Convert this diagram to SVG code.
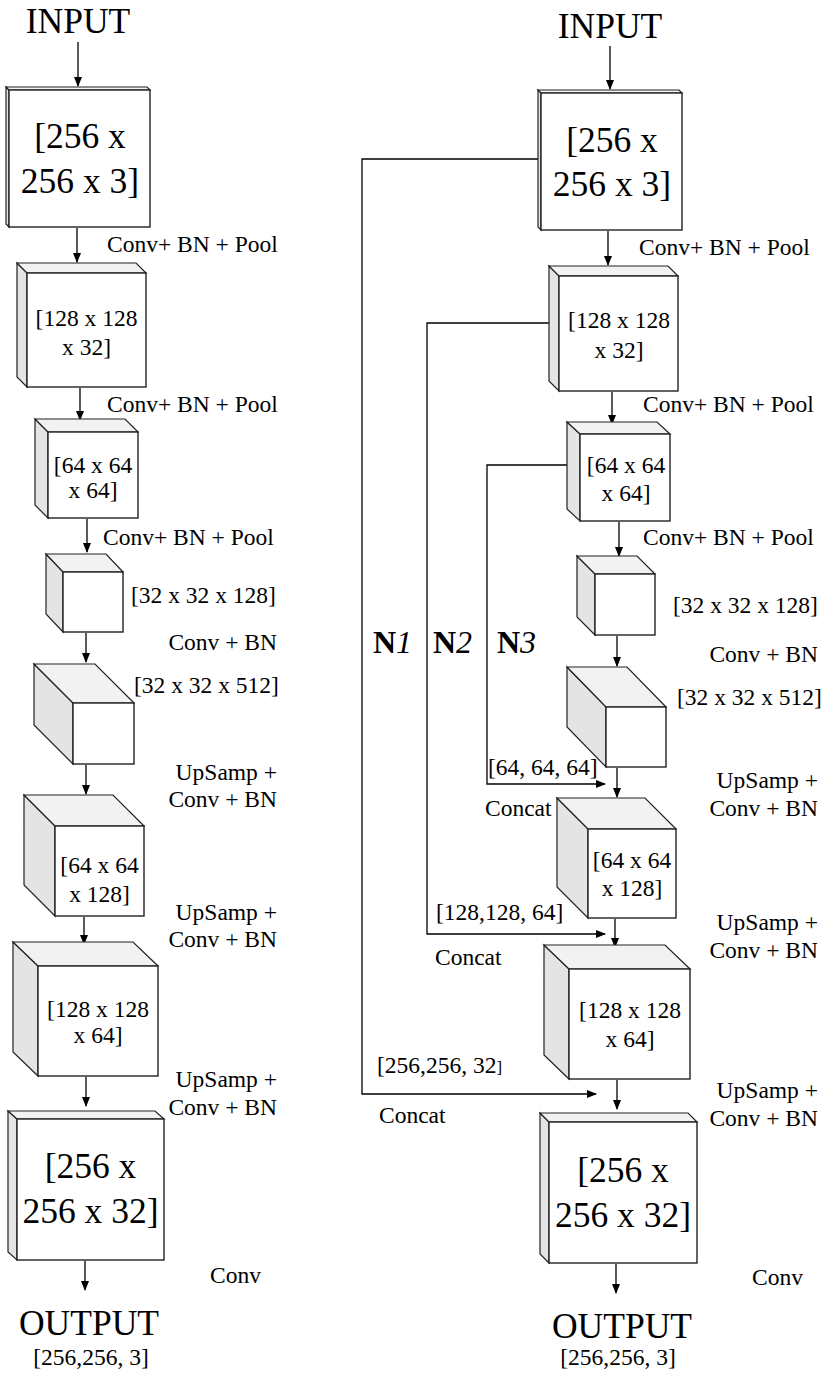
<svg xmlns="http://www.w3.org/2000/svg" width="837" height="1381" viewBox="0 0 837 1381">
<defs>
<marker id="ah" markerWidth="10" markerHeight="8" refX="9" refY="4" orient="auto" markerUnits="userSpaceOnUse">
<path d="M0,0 L10,4 L0,8 Z" fill="#000"/>
</marker>
<style>
text{font-family:"Liberation Serif","Times New Roman",serif;fill:#000}
.s{font-size:23.5px}
.l{font-size:35.5px}
.m{text-anchor:middle}
.e{text-anchor:end}
.side{fill:#e4e4e4;stroke:#222;stroke-width:1.2}
.top{fill:#f2f2f2;stroke:#222;stroke-width:1.2}
.front{fill:#fff;stroke:#222;stroke-width:1.4}
.c line,.c polyline{stroke:#000;stroke-width:1.3;fill:none}
.n{font-size:32px}
</style>
</defs>
<rect width="837" height="1381" fill="#fff"/>

<!-- connectors -->
<g id="connectors" class="c">
<line x1="78" y1="42" x2="78" y2="86" marker-end="url(#ah)"/>
<line x1="77" y1="228" x2="77" y2="262" marker-end="url(#ah)"/>
<line x1="80" y1="388" x2="80" y2="420" marker-end="url(#ah)"/>
<line x1="87" y1="519" x2="87" y2="552" marker-end="url(#ah)"/>
<line x1="86" y1="633" x2="86" y2="662" marker-end="url(#ah)"/>
<line x1="86" y1="765" x2="86" y2="794" marker-end="url(#ah)"/>
<line x1="84" y1="917" x2="84" y2="944" marker-end="url(#ah)"/>
<line x1="86" y1="1077" x2="86" y2="1106" marker-end="url(#ah)"/>
<line x1="85" y1="1261" x2="85" y2="1290" marker-end="url(#ah)"/>

<line x1="610" y1="46" x2="610" y2="89" marker-end="url(#ah)"/>
<line x1="608" y1="231" x2="608" y2="265" marker-end="url(#ah)"/>
<line x1="612" y1="392" x2="612" y2="424" marker-end="url(#ah)"/>
<line x1="619" y1="522" x2="619" y2="556" marker-end="url(#ah)"/>
<line x1="617" y1="636" x2="617" y2="666" marker-end="url(#ah)"/>
<line x1="617" y1="768" x2="617" y2="797" marker-end="url(#ah)"/>
<line x1="615" y1="919" x2="615" y2="947" marker-end="url(#ah)"/>
<line x1="617" y1="1080" x2="617" y2="1109" marker-end="url(#ah)"/>
<line x1="616" y1="1264" x2="616" y2="1293" marker-end="url(#ah)"/>

<polyline points="541,159 362,159 362,1094 596,1094" marker-end="url(#ah)"/>
<polyline points="549,323 427,323 427,934 605,934" marker-end="url(#ah)"/>
<polyline points="567,465 487,465 487,784 605,784" marker-end="url(#ah)"/>
</g>

<!-- left column -->
<text class="l m" x="78" y="33">INPUT</text>

<g id="L1">
<polygon class="side" points="6,87 9,90 9,227 6,224"/>
<polygon class="top" points="6,87 147,87 150,90 9,90"/>
<rect class="front" x="9" y="90" width="141" height="137"/>
<text class="l m" x="80" y="148">[256 x</text>
<text class="l m" x="80" y="193">256 x 3]</text>
</g>
<text class="s" x="107" y="252">Conv+ BN + Pool</text>

<g id="L2">
<polygon class="side" points="17,263 27,273 27,387 17,377"/>
<polygon class="top" points="17,263 136,263 146,273 27,273"/>
<rect class="front" x="27" y="273" width="119" height="114"/>
<text class="s m" x="86.5" y="326">[128 x 128</text>
<text class="s m" x="86.5" y="355">x 32]</text>
</g>
<text class="s" x="107" y="412">Conv+ BN + Pool</text>

<g id="L3">
<polygon class="side" points="35,419 48,432 48,518 35,505"/>
<polygon class="top" points="35,419 125,419 138,432 48,432"/>
<rect class="front" x="48" y="432" width="90" height="86"/>
<text class="s m" x="93" y="473">[64 x 64</text>
<text class="s m" x="93" y="498">x 64]</text>
</g>
<text class="s" x="103" y="545">Conv+ BN + Pool</text>

<g id="L4">
<polygon class="side" points="46,554 63,572 63,632 46,614"/>
<polygon class="top" points="46,554 106,554 123,572 63,572"/>
<rect class="front" x="63" y="572" width="60" height="60"/>
</g>
<text class="s" x="131" y="603">[32 x 32 x 128]</text>
<text class="s e" x="277" y="650">Conv + BN</text>

<g id="L5">
<polygon class="side" points="34,664 73,703 73,764 34,725"/>
<polygon class="top" points="34,664 95,664 134,703 73,703"/>
<rect class="front" x="73" y="703" width="61" height="61"/>
</g>
<text class="s" x="134" y="693">[32 x 32 x 512]</text>
<text class="s e" x="277" y="780">UpSamp +</text>
<text class="s e" x="277" y="807">Conv + BN</text>

<g id="L6">
<polygon class="side" points="24,795 55,826 55,916 24,885"/>
<polygon class="top" points="24,795 113,795 144,826 55,826"/>
<rect class="front" x="55" y="826" width="89" height="90"/>
<text class="s m" x="99.5" y="873">[64 x 64</text>
<text class="s m" x="99.5" y="902">x 128]</text>
</g>
<text class="s e" x="277" y="920">UpSamp +</text>
<text class="s e" x="277" y="947">Conv + BN</text>

<g id="L7">
<polygon class="side" points="13,942 38,966 38,1076 13,1052"/>
<polygon class="top" points="13,942 133,942 158,966 38,966"/>
<rect class="front" x="38" y="966" width="120" height="110"/>
<text class="s m" x="98" y="1017">[128 x 128</text>
<text class="s m" x="98" y="1043">x 64]</text>
</g>
<text class="s e" x="277" y="1087">UpSamp +</text>
<text class="s e" x="277" y="1115">Conv + BN</text>

<g id="L8">
<polygon class="side" points="8,1111 17,1119 17,1260 8,1252"/>
<polygon class="top" points="8,1111 155,1111 164,1119 17,1119"/>
<rect class="front" x="17" y="1119" width="147" height="141"/>
<text class="l m" x="90.5" y="1178">[256 x</text>
<text class="l m" x="90.5" y="1223">256 x 32]</text>
</g>
<text class="s" x="210" y="1283">Conv</text>
<text class="l m" x="89" y="1335">OUTPUT</text>
<text class="s m" x="91" y="1365">[256,256, 3]</text>

<!-- right column -->
<text class="l m" x="610" y="38">INPUT</text>

<g id="R1">
<polygon class="side" points="538,90 541,93 541,230 538,227"/>
<polygon class="top" points="538,90 679,90 682,93 541,93"/>
<rect class="front" x="541" y="93" width="141" height="137"/>
<text class="l m" x="612" y="152">[256 x</text>
<text class="l m" x="612" y="196">256 x 3]</text>
</g>
<text class="s" x="639" y="255">Conv+ BN + Pool</text>

<g id="R2">
<polygon class="side" points="549,266 559,276 559,391 549,381"/>
<polygon class="top" points="549,266 668,266 678,276 559,276"/>
<rect class="front" x="559" y="276" width="119" height="115"/>
<text class="s m" x="619" y="328">[128 x 128</text>
<text class="s m" x="619" y="358">x 32]</text>
</g>
<text class="s" x="643" y="412">Conv+ BN + Pool</text>

<g id="R3">
<polygon class="side" points="567,422 580,434 580,521 567,509"/>
<polygon class="top" points="567,422 657,422 670,434 580,434"/>
<rect class="front" x="580" y="434" width="90" height="87"/>
<text class="s m" x="626" y="473">[64 x 64</text>
<text class="s m" x="626" y="501">x 64]</text>
</g>
<text class="s" x="643" y="545">Conv+ BN + Pool</text>

<g id="R4">
<polygon class="side" points="577,556 595,574 595,635 577,617"/>
<polygon class="top" points="577,556 637,556 655,574 595,574"/>
<rect class="front" x="595" y="574" width="60" height="61"/>
</g>
<text class="s" x="673" y="613">[32 x 32 x 128]</text>
<text class="s e" x="818" y="662">Conv + BN</text>

<g id="R5">
<polygon class="side" points="567,667 606,707 606,767 567,727"/>
<polygon class="top" points="567,667 627,667 666,707 606,707"/>
<rect class="front" x="606" y="707" width="60" height="60"/>
</g>
<text class="s" x="677" y="705">[32 x 32 x 512]</text>
<text class="s e" x="818" y="788">UpSamp +</text>
<text class="s e" x="818" y="816">Conv + BN</text>

<text class="s" x="488" y="775">[64, 64, 64]</text>
<text class="s" x="485" y="816">Concat</text>

<g id="R6">
<polygon class="side" points="557,798 588,829 588,918 557,887"/>
<polygon class="top" points="557,798 645,798 676,829 588,829"/>
<rect class="front" x="588" y="829" width="88" height="89"/>
<text class="s m" x="632" y="868">[64 x 64</text>
<text class="s m" x="632" y="896">x 128]</text>
</g>
<text class="s e" x="818" y="930">UpSamp +</text>
<text class="s e" x="818" y="958">Conv + BN</text>

<text class="s" x="436" y="920">[128,128, 64]</text>
<text class="s" x="435" y="965">Concat</text>

<g id="R7">
<polygon class="side" points="544,945 569,969 569,1079 544,1055"/>
<polygon class="top" points="544,945 665,945 690,969 569,969"/>
<rect class="front" x="569" y="969" width="121" height="110"/>
<text class="s m" x="630" y="1018">[128 x 128</text>
<text class="s m" x="630" y="1047">x 64]</text>
</g>
<text class="s e" x="818" y="1098">UpSamp +</text>
<text class="s e" x="818" y="1126">Conv + BN</text>

<text class="s" x="377" y="1073">[256,256, 32<tspan font-size="17">]</tspan></text>
<text class="s" x="379" y="1123">Concat</text>

<g id="R8">
<polygon class="side" points="540,1113 549,1122 549,1263 540,1254"/>
<polygon class="top" points="540,1113 688,1113 697,1122 549,1122"/>
<rect class="front" x="549" y="1122" width="148" height="141"/>
<text class="l m" x="623" y="1182">[256 x</text>
<text class="l m" x="623" y="1227">256 x 32]</text>
</g>
<text class="s" x="752" y="1285">Conv</text>
<text class="l m" x="622" y="1338">OUTPUT</text>
<text class="s m" x="618" y="1365">[256,256, 3]</text>

<g id="labels">
<text class="n" x="373" y="653"><tspan font-weight="bold">N</tspan><tspan font-style="italic">1</tspan></text>
<text class="n" x="433" y="653"><tspan font-weight="bold">N</tspan><tspan font-style="italic">2</tspan></text>
<text class="n" x="497" y="653"><tspan font-weight="bold">N</tspan><tspan font-style="italic">3</tspan></text>
</g>
</svg>
